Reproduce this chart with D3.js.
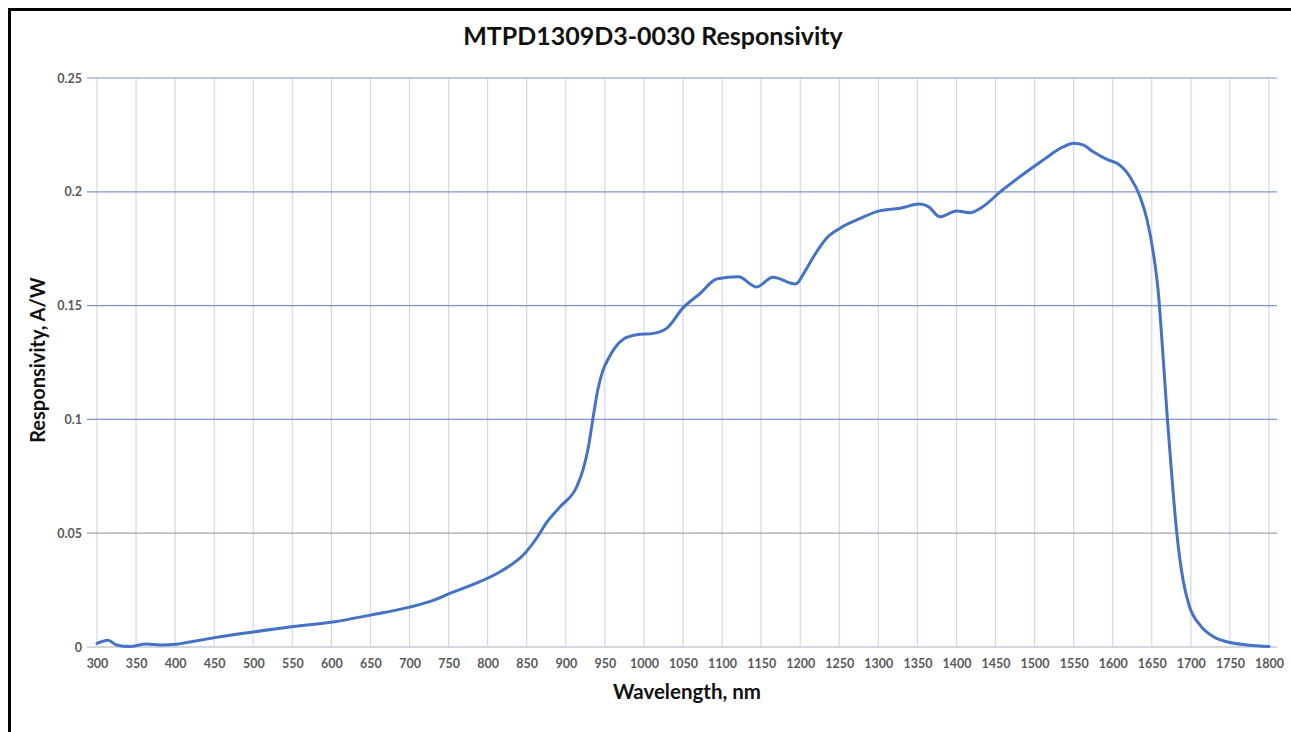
<!DOCTYPE html>
<html>
<head>
<meta charset="utf-8">
<script src="https://cdn.jsdelivr.net/npm/d3@7"></script>
<style>
  body { margin: 0; background: #fff; }
  svg { display: block; }
</style>
</head>
<body>
<svg width="1291" height="732"></svg>
<script>
// ### Data ###
var wavelength = [300, 305, 314, 325, 342, 363, 381, 402, 415, 449, 500, 551, 602, 650, 700, 731, 750, 790, 816, 848,
  863, 876, 893, 914, 922, 929, 935, 941, 947, 955, 963, 974, 991, 1012, 1029, 1050, 1072, 1093, 1121, 1144, 1165,
  1194, 1206, 1218, 1234, 1251, 1277, 1298, 1328, 1353, 1364, 1379, 1400, 1417, 1434, 1456, 1481, 1511, 1520, 1537, 1550, 1562,
  1575, 1594, 1607, 1622, 1635, 1644, 1652, 1658, 1665, 1670, 1676, 1682, 1690, 1698, 1712, 1729, 1746, 1772, 1800]
var responsivity = [0.0016, 0.0022, 0.003, 0.0009, 0.0002, 0.0013, 0.0009, 0.0012, 0.002, 0.004, 0.0066, 0.009, 0.011, 0.014, 0.0175, 0.0206, 0.0233, 0.0287, 0.0331, 0.0413,
  0.048, 0.055, 0.0617, 0.0704, 0.0778, 0.088, 0.101, 0.113, 0.121, 0.127, 0.1315, 0.1353, 0.1372, 0.1378, 0.140, 0.149, 0.1554, 0.1617, 0.1627, 0.1582, 0.1625,
  0.1595, 0.165, 0.172, 0.1797, 0.184, 0.1883, 0.1913, 0.1928, 0.1946, 0.1935, 0.189, 0.1916, 0.1908, 0.1935, 0.200, 0.2066, 0.214, 0.2162, 0.2198, 0.2213, 0.2206,
  0.2176, 0.214, 0.2122, 0.2066, 0.1978, 0.1876, 0.173, 0.157, 0.1248, 0.100, 0.0734, 0.050, 0.0294, 0.018, 0.0095, 0.0045, 0.0023, 0.0009, 0.0002]

var xTicks = d3.range(300, 1801, 50)
var yTicks = [0, 0.05, 0.1, 0.15, 0.2, 0.25]

var chartTitle = 'MTPD1309D3-0030 Responsivity'
var xTitle = 'Wavelength, nm'
var yTitle = 'Responsivity, A/W'

// ### Canvas ###
var margin = {top: 78, right: 22, bottom: 85, left: 97}
var width = 1291 - margin.left - margin.right
var height = 732 - margin.top - margin.bottom

var svg = d3.select('svg')
var font = 'Lato, "Open Sans", sans-serif'

// frame (left + top black border)
svg.append('path')
	.attr('d', 'M9.5,732 L9.5,9.5 L1291,9.5')
	.attr('fill', 'none')
	.attr('stroke', '#000')
	.attr('stroke-width', 3)

var g = svg.append('g')
	.attr('transform', `translate(${margin.left},${margin.top})`)

// ### Scales ###
var xScale = d3.scaleLinear()
	.domain([300, 1800])
	.range([0, width])
var yScale = d3.scaleLinear()
	.domain([0, 0.25])
	.range([height, 0])

// ### Gridlines ###
g.selectAll('.vgrid')
	.data(xTicks)
	.enter()
	.append('line')
	.attr('class', 'vgrid')
	.attr('x1', d => xScale(d))
	.attr('x2', d => xScale(d))
	.attr('y1', 0)
	.attr('y2', height)
	.attr('stroke', '#d4d4ee')
	.attr('stroke-width', 1.2)

var hColor = function(d) {
	if (d === 0) return '#c8c8d4'
	if (d === 0.05) return '#a4a4ac'
	if (d === 0.25) return '#aab6e2'
	return '#7f95cf'
}
g.selectAll('.hgrid')
	.data(yTicks)
	.enter()
	.append('line')
	.attr('class', 'hgrid')
	.attr('x1', -10)
	.attr('x2', width + 8)
	.attr('y1', d => yScale(d))
	.attr('y2', d => yScale(d))
	.attr('stroke', hColor)
	.attr('stroke-width', 1.3)

// ### Axes ###
var xAxis = d3.axisBottom(xScale)
	.tickValues(xTicks)
	.tickFormat(d3.format('d'))
	.tickSize(0)
	.tickPadding(12)
var yAxis = d3.axisLeft(yScale)
	.tickValues(yTicks)
	.tickFormat(d => d === 0 ? '0' : String(d))
	.tickSize(0)
	.tickPadding(15)

var gx = g.append('g')
	.attr('transform', `translate(0,${height})`)
	.call(xAxis)
var gy = g.append('g')
	.call(yAxis)

gx.select('.domain').remove()
gy.select('.domain').remove()
svg.selectAll('.tick text')
	.attr('fill', '#595959')
	.style('font-family', font)
	.style('font-weight', 'bold')
	.style('font-size', '12.5px')

// ### Line ###
var points = wavelength.map((w, i) => [w, responsivity[i]])
var line = d3.line()
	.x(d => xScale(d[0]))
	.y(d => yScale(d[1]))
	.curve(d3.curveMonotoneX)

g.append('path')
	.datum(points)
	.attr('d', line)
	.attr('fill', 'none')
	.attr('stroke', '#4472c4')
	.attr('stroke-width', 3)
	.attr('stroke-linejoin', 'round')
	.attr('stroke-linecap', 'round')

// ### Titles ###
svg.append('text')
	.attr('x', 653)
	.attr('y', 45)
	.attr('text-anchor', 'middle')
	.style('font-family', font)
	.style('font-weight', 'bold')
	.style('font-size', '25px')
	.attr('fill', '#111')
	.text(chartTitle)

svg.append('text')
	.attr('x', 687)
	.attr('y', 699)
	.attr('text-anchor', 'middle')
	.style('font-family', font)
	.style('font-weight', 'bold')
	.style('font-size', '20.5px')
	.attr('fill', '#111')
	.text(xTitle)

svg.append('text')
	.attr('transform', 'translate(45,360) rotate(-90)')
	.attr('text-anchor', 'middle')
	.style('font-family', font)
	.style('font-weight', 'bold')
	.style('font-size', '20px')
	.attr('fill', '#111')
	.text(yTitle)
</script>
</body>
</html>
